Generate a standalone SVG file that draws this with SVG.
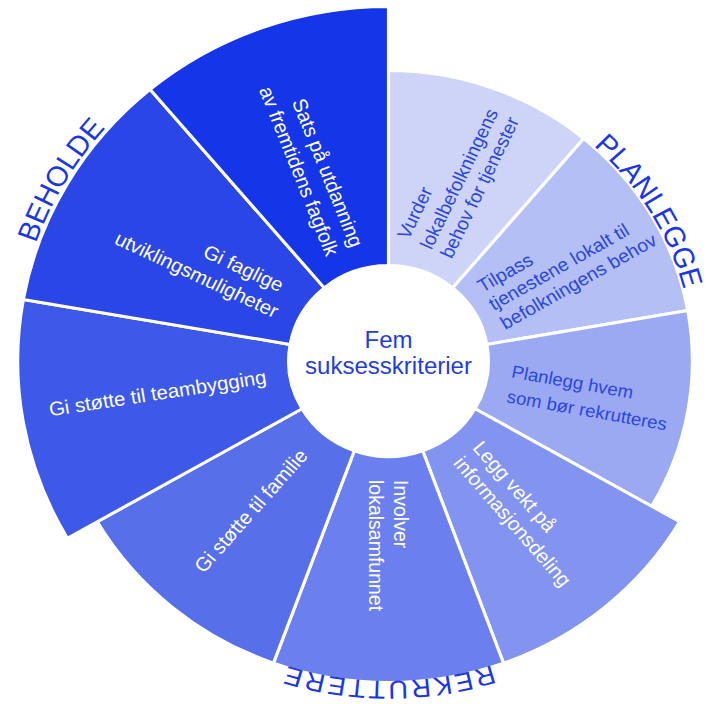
<svg xmlns="http://www.w3.org/2000/svg" width="709" height="704" viewBox="0 0 709 704">
<style>
  text { font-family: "Liberation Sans", Arial, sans-serif; }
  .sec { stroke: #ffffff; stroke-width: 3; stroke-linejoin: miter; }
  .lbl { font-size: 19.5px; }
  .sm { font-size: 18.5px; }
  .w { fill: #ffffff; }
  .b { fill: #2a45e0; }
  .grp { font-size: 28px; fill: #1a36e6; }
  .ctr { font-size: 23px; fill: #1f3de0; text-anchor: middle; }
</style>
<defs>
  <path id="arcPlan" d="M94.75,-275.14 A291,291 0 0 1 287.42,45.51"/>
  <path id="arcRekr" d="M205.57,244.97 A319.8,319.8 0 0 1 -205.57,244.97"/>
  <path id="arcBeh" d="M-351.57,61.98 A357,357 0 0 1 -122.09,-335.47"/>
</defs>
<rect width="709" height="704" fill="#ffffff"/>
<g transform="translate(388.5,361) scale(1.046,1)">
  <g id="vurder">
    <path class="sec" fill="#cdd4f7" d="M0,-95.5 L0,-290.5 A290.5,290.5 0 0 1 186.73,-222.52 L61.39,-73.15 A95.5,95.5 0 0 0 0,-95.5Z"/>
    <text class="lbl sm b" transform="rotate(-65)"><tspan x="117.5" y="-33.5">Vurder</tspan><tspan x="117.5" y="-9.5">lokalbefolkningens</tspan><tspan x="117.5" y="12">behov for tjenester</tspan></text>
  </g>
  <g id="tilpass">
    <path class="sec" fill="#b4bff5" d="M61.39,-73.15 L186.73,-222.52 A290.5,290.5 0 0 1 286.08,-50.43 L94.05,-16.58 A95.5,95.5 0 0 0 61.39,-73.15Z"/>
    <text class="lbl sm b" transform="rotate(-30.5)"><tspan x="112" y="-13">Tilpass</tspan><tspan x="112" y="8">tjenestene lokalt til</tspan><tspan x="112" y="30">befolkningens behov</tspan></text>
  </g>
  <g id="planlegg">
    <path class="sec" fill="#9ba9f2" d="M94.05,-16.58 L286.08,-50.43 A290.5,290.5 0 0 1 251.58,145.25 L82.70,47.75 A95.5,95.5 0 0 0 94.05,-16.58Z"/>
    <text class="lbl b" style="font-size:17.8px" transform="rotate(10.5)"><tspan x="118" y="-5.3">Planlegg hvem</tspan><tspan x="118" y="20">som bør rekrutteres</tspan></text>
  </g>
  <g id="legg">
    <path class="sec" fill="#8294f0" d="M82.70,47.75 L278.42,160.75 A321.5,321.5 0 0 1 109.95,302.11 L32.66,89.74 A95.5,95.5 0 0 0 82.70,47.75Z"/>
    <text class="lbl w" transform="rotate(50)"><tspan x="118" y="-5">Legg vekt på</tspan><tspan x="118" y="19">informasjonsdeling</tspan></text>
  </g>
  <g id="involver">
    <path class="sec" fill="#6b80ee" d="M32.66,89.74 L109.95,302.11 A321.5,321.5 0 0 1 -109.95,302.11 L-32.66,89.74 A95.5,95.5 0 0 0 32.66,89.74Z"/>
    <text class="lbl w" transform="rotate(90)"><tspan x="119" y="-5.7">Involver</tspan><tspan x="119" y="18.2">lokalsamfunnet</tspan></text>
  </g>
  <g id="familie">
    <path class="sec" fill="#586fea" d="M-32.66,89.74 L-109.95,302.11 A321.5,321.5 0 0 1 -278.42,160.75 L-82.70,47.75 A95.5,95.5 0 0 0 -32.66,89.74Z"/>
    <text class="lbl w" transform="rotate(-49.5)" x="-122" y="4" text-anchor="end">Gi støtte til familie</text>
  </g>
  <g id="teambygging">
    <path class="sec" fill="#3e58e8" d="M-82.70,47.75 L-307,177.25 A354.5,354.5 0 0 1 -349.11,-61.54 L-94.05,-16.58 A95.5,95.5 0 0 0 -82.70,47.75Z"/>
    <text class="lbl w" transform="rotate(-9)" x="-118" y="4" text-anchor="end">Gi støtte til teambygging</text>
  </g>
  <g id="faglige">
    <path class="sec" fill="#2b46e6" d="M-94.05,-16.58 L-349.11,-61.54 A354.5,354.5 0 0 1 -227.87,-271.55 L-61.39,-73.15 A95.5,95.5 0 0 0 -94.05,-16.58Z"/>
    <text class="lbl w" transform="rotate(26)" text-anchor="end"><tspan x="-124" y="-16">Gi faglige</tspan><tspan x="-117" y="9.5">utviklingsmuligheter</tspan></text>
  </g>
  <g id="sats">
    <path class="sec" fill="#1536e8" d="M-61.39,-73.15 L-227.87,-271.55 A354.5,354.5 0 0 1 0,-354.5 L0,-95.5 A95.5,95.5 0 0 0 -61.39,-73.15Z"/>
    <text class="lbl w" transform="rotate(69)" text-anchor="end"><tspan x="-118" y="-6.5">Sats på utdanning</tspan><tspan x="-118" y="18.5">av fremtidens fagfolk</tspan></text>
  </g>
  <g id="center">
    <circle r="95.5" fill="#ffffff"/>
    <text class="ctr"><tspan x="0" y="-13">Fem</tspan><tspan x="0" y="13">suksesskriterier</tspan></text>
  </g>
  <g id="groups">
    <text class="grp"><textPath href="#arcPlan" startOffset="50%" text-anchor="middle">PLANLEGGE</textPath></text>
    <text class="grp" style="font-size:26px;letter-spacing:2.5px"><textPath href="#arcRekr" startOffset="50%" text-anchor="middle">REKRUTTERE</textPath></text>
    <text class="grp"><textPath href="#arcBeh" startOffset="50%" text-anchor="middle">BEHOLDE</textPath></text>
  </g>
</g>
</svg>
